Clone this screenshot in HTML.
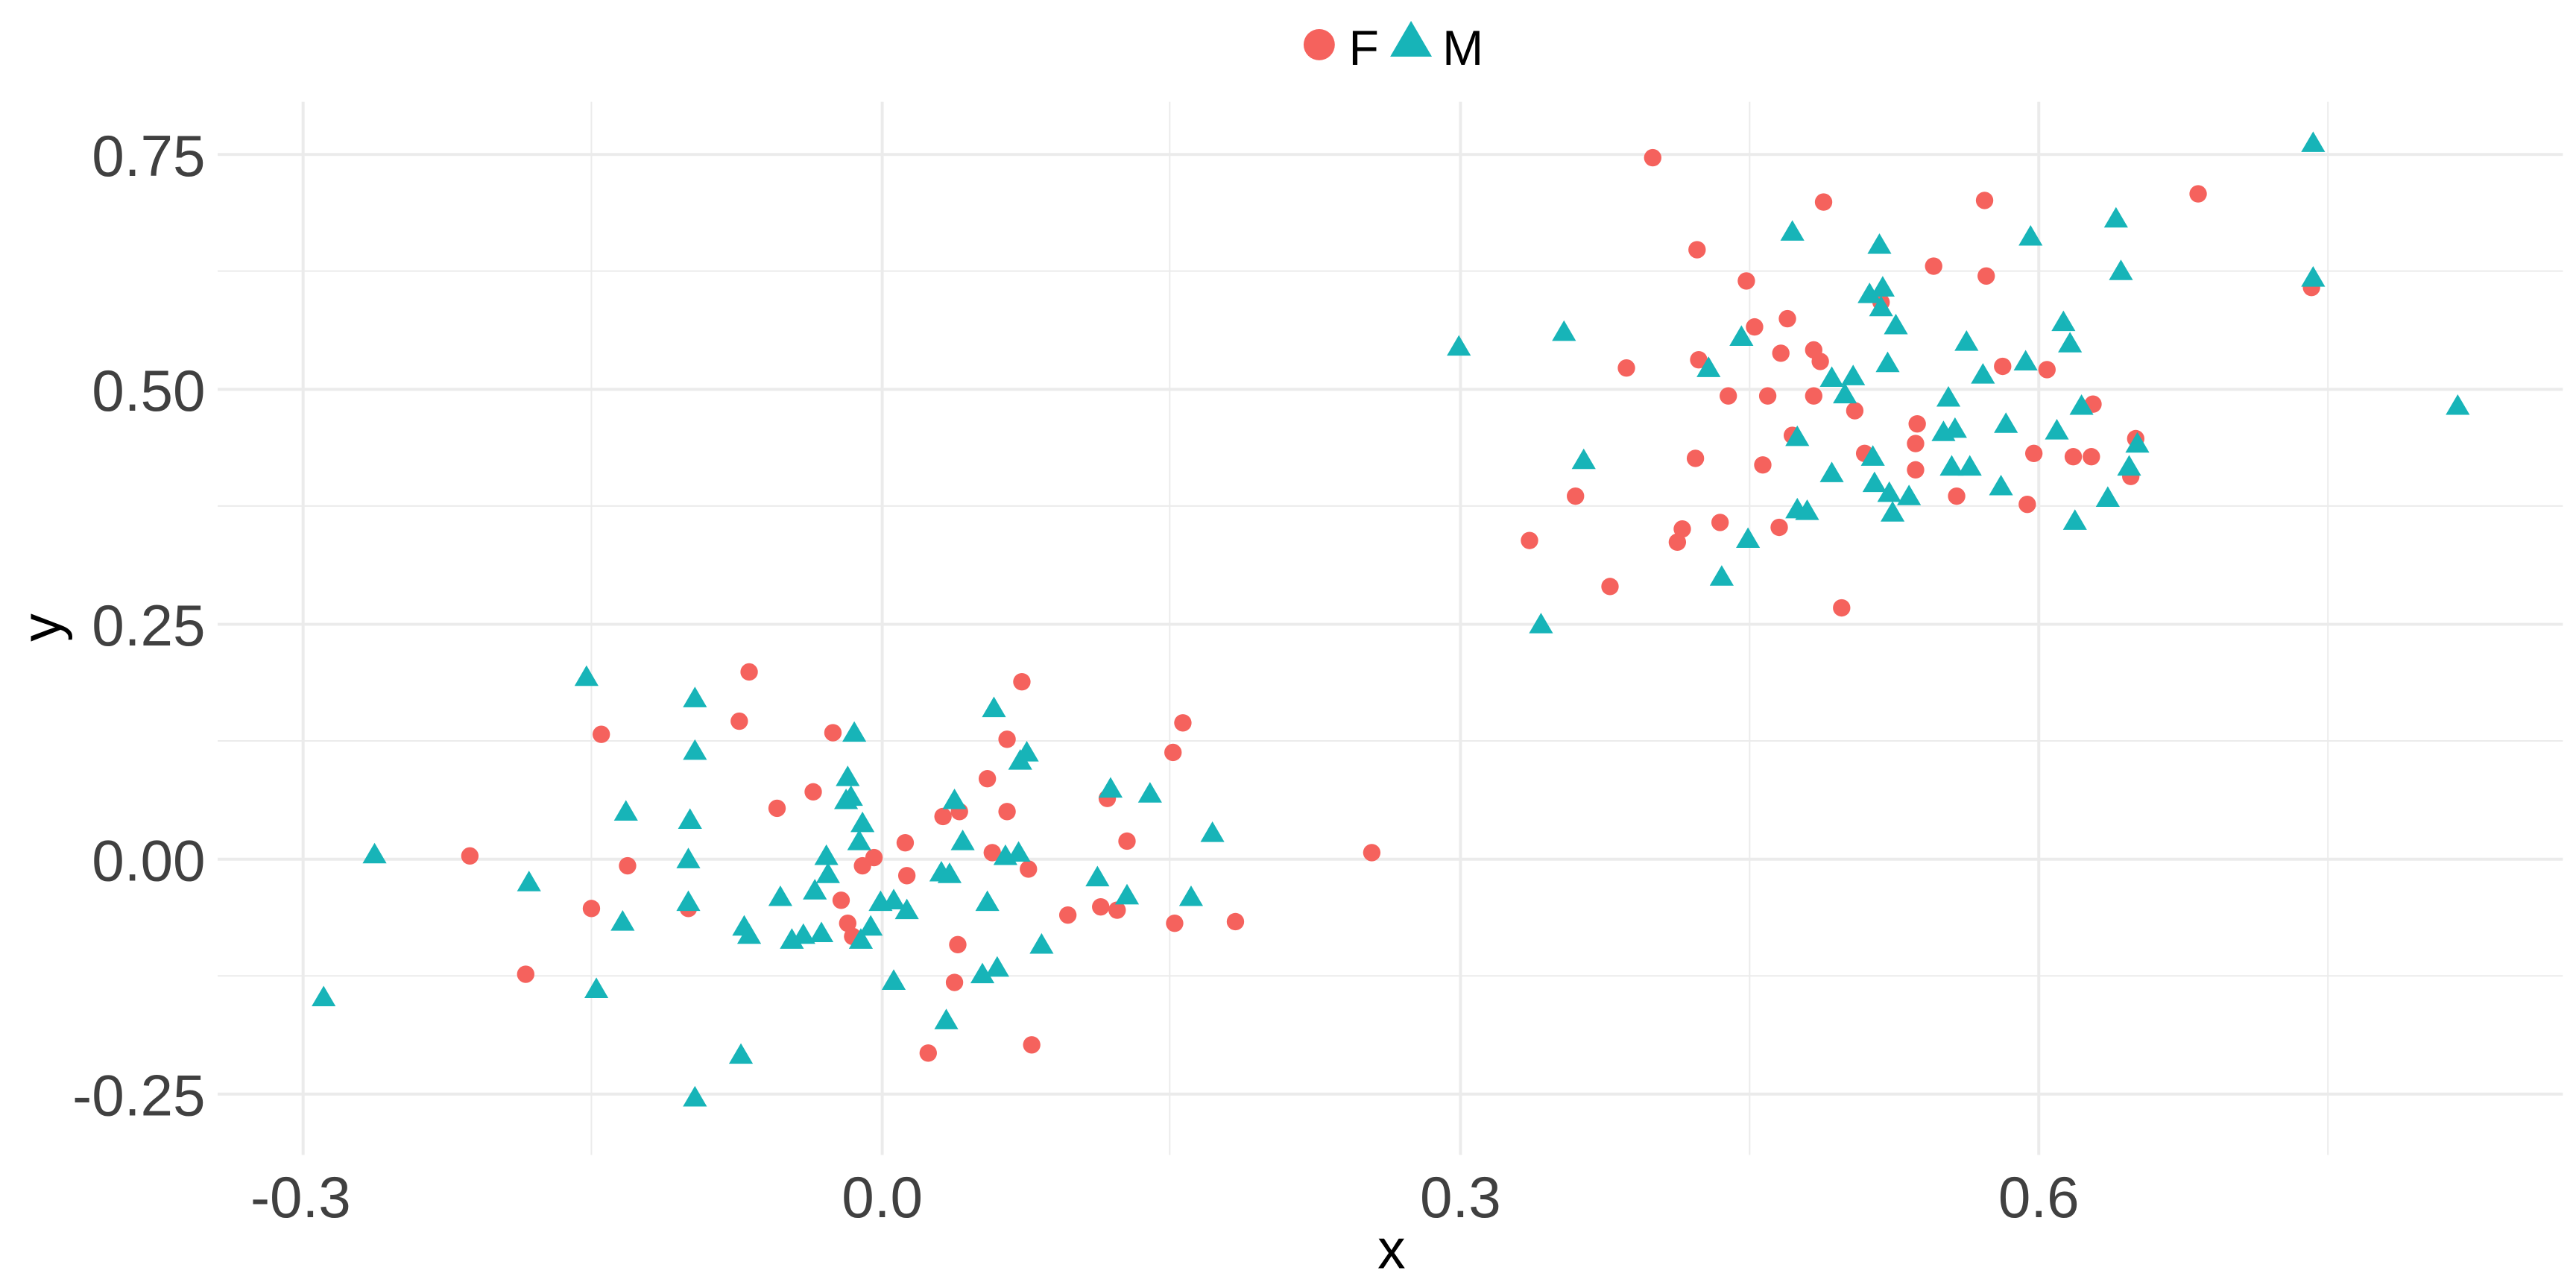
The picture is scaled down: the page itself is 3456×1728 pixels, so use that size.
<!DOCTYPE html>
<html><head><meta charset="utf-8"><style>
html,body{margin:0;padding:0;background:#fff;}
svg{display:block;}
text{font-family:"Liberation Sans",Arial,sans-serif;}
</style></head><body>
<svg id="s" width="3456" height="1728" viewBox="0 0 1568 784" xmlns="http://www.w3.org/2000/svg">
<rect width="1568" height="784" fill="#fff"/>
<g stroke="#EBEBEB" stroke-width="0.9">
<line x1="360" y1="62" x2="360" y2="703"/><line x1="712" y1="62" x2="712" y2="703"/>
<line x1="1065" y1="62" x2="1065" y2="703"/><line x1="1417" y1="62" x2="1417" y2="703"/>
<line x1="132.5" y1="165" x2="1560" y2="165"/><line x1="132.5" y1="308" x2="1560" y2="308"/>
<line x1="132.5" y1="451" x2="1560" y2="451"/><line x1="132.5" y1="594" x2="1560" y2="594"/>
</g>
<g stroke="#EBEBEB" stroke-width="1.8">
<line x1="184.5" y1="62" x2="184.5" y2="703"/><line x1="537" y1="62" x2="537" y2="703"/>
<line x1="889" y1="62" x2="889" y2="703"/><line x1="1241" y1="62" x2="1241" y2="703"/>
<line x1="132.5" y1="94" x2="1560" y2="94"/><line x1="132.5" y1="237" x2="1560" y2="237"/>
<line x1="132.5" y1="380" x2="1560" y2="380"/><line x1="132.5" y1="523" x2="1560" y2="523"/>
<line x1="132.5" y1="666" x2="1560" y2="666"/>
</g>
<g fill="#404040" font-size="35.5" text-anchor="end">
<text x="125" y="107">0.75</text><text x="125" y="250">0.50</text>
<text x="125" y="393">0.25</text><text x="125" y="536">0.00</text>
<text x="125" y="679">-0.25</text>
</g>
<g fill="#404040" font-size="35.5" text-anchor="middle">
<text x="183" y="741">-0.3</text><text x="537" y="741">0.0</text>
<text x="889" y="741">0.3</text><text x="1241" y="741">0.6</text>
</g>
<text x="847" y="772" font-size="34" text-anchor="middle" fill="#000">x</text>
<text transform="translate(37,382) rotate(-90)" font-size="34" text-anchor="middle" fill="#000">y</text>
<circle cx="803" cy="27.2" r="9.5" fill="#F5625D"/>
<text x="821" y="39.5" font-size="30" fill="#000">F</text>
<polygon points="846.2,34.5 871.6,34.5 858.9,12.7" fill="#17B4B8"/>
<text x="878" y="39.5" font-size="30" fill="#000">M</text>
<g id="pts"></g>
</svg>
<script>
var F=[[1006,96],[1110,123],[1208,122],[1338,118],[1033,152],[1177,162],[1209,168],[1063,171],[1068,199],[1088,194],[1104,213],[1084,215],[1108,220],[990,224],[1034,219],[1219,223],[1246,225],[1076,241],[1052,241],[1104,241],[1129,250],[1167,258],[1091,265],[1135,276],[1166,270],[1274,246],[1300,267],[1238,276],[1262,278],[1273,278],[1032,279],[1073,283],[1166,286],[1297,290],[1191,302],[1234,307],[959,302],[1024,322],[1047,318],[1021,330],[1083,321],[931,329],[980,357],[1121,370],[1407,175],[1145,184],
[456,409],[622,415],[366,447],[450,439],[720,440],[714,458],[613,450],[507,446],[601,474],[495,482],[473,492],[574,497],[584,494],[613,494],[674,486],[551,513],[532,522],[286,521],[382,527],[686,512],[626,529],[604,519],[525,527],[552,533],[835,519],[360,553],[419,553],[512,548],[516,562],[519,570],[650,557],[670,552],[680,554],[715,562],[752,561],[320,593],[583,575],[581,598],[565,641],[628,636]];
var M=[[1408,88],[888,212],[952,203],[1236,145],[1288,134],[1144,150],[1091,142],[1291,166],[1408,170],[1138,180],[1146,176],[1145,188],[1154,199],[1060,206],[1197,209],[1256,197],[1260,210],[1040,225],[1149,222],[1233,221],[1207,229],[1115,231],[1128,230],[1123,241],[1186,243],[1267,248],[1496,248],[1183,264],[1190,262],[1221,259],[1252,263],[1301,271],[1140,279],[1094,267],[964,281],[1296,285],[1188,285],[1199,285],[1115,289],[1141,295],[1218,297],[1150,301],[1162,303],[1283,304],[1094,311],[1100,312],[1152,313],[1263,318],[1064,329],[1048,352],[938,381],
[357,413],[423,426],[605,432],[520,447],[423,458],[625,459],[621,464],[516,474],[518,486],[515,488],[676,481],[700,484],[581,488],[381,495],[525,502],[420,500],[738,508],[586,513],[523,513],[503,522],[612,522],[620,520],[544,549],[552,555],[419,524],[573,532],[578,533],[504,533],[496,543],[601,550],[668,535],[686,546],[725,547],[536,550],[322,538],[228,521],[419,550],[379,562],[453,565],[456,570],[530,565],[524,573],[475,547],[482,573],[489,570],[500,569],[634,576],[544,598],[607,590],[598,594],[363,603],[197,608],[576,622],[451,643],[423,669]];
var g=document.getElementById('pts'),h='';
F.forEach(function(p){h+='<circle cx="'+p[0]+'" cy="'+p[1]+'" r="5.3" fill="#F5625D"/>';});
M.forEach(function(p){var x=p[0],y=p[1];h+='<polygon points="'+(x-7.3)+','+(y+4.5)+' '+(x+7.3)+','+(y+4.5)+' '+x+','+(y-8)+'" fill="#17B4B8"/>';});
g.innerHTML=h;
</script>
</body></html>
